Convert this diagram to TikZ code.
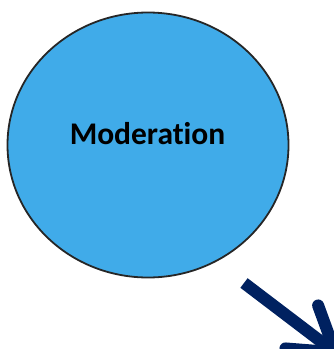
\documentclass[tikz,border=0pt]{standalone}
\usepackage{fontspec}
\setmainfont{Carlito}[Ligatures=NoCommon]
\usetikzlibrary{arrows.meta,shapes.geometric}

\definecolor{modblue}{RGB}{64,171,233}
\definecolor{navy}{RGB}{0,33,96}

\begin{document}
\begin{tikzpicture}[
				x=1pt,y=-1pt,
				construct/.style={
					ellipse,
					draw=black!85,
					line width=1.8pt,
					fill=modblue,
					minimum width=281pt,
					minimum height=265pt,
					inner sep=0pt
				},
				title/.style={
					inner sep=0pt,
					font=\fontsize{31.5}{36}\selectfont\bfseries
				},
				path/.style={
					draw=navy,
					line width=12pt,
					-{Straight Barb[length=42pt,width=54pt,round]}
				}
				]
				
				\useasboundingbox (0,0) rectangle (334,349);
				
				% -------------------------------------------------------------------------
				% Moderator
				% -------------------------------------------------------------------------
				
				\node[construct] (MOD) at (148,145) {};
				\node[title] (MODtxt) at (147.5,133.5) {Moderation};
				
				% -------------------------------------------------------------------------
				% Outgoing path
				% -------------------------------------------------------------------------
				
				\coordinate (start) at (244,283);
				\coordinate (tip) at (340,356);
				
				\draw[path] (start) -- (tip);
				
		\end{tikzpicture}
\end{document}
